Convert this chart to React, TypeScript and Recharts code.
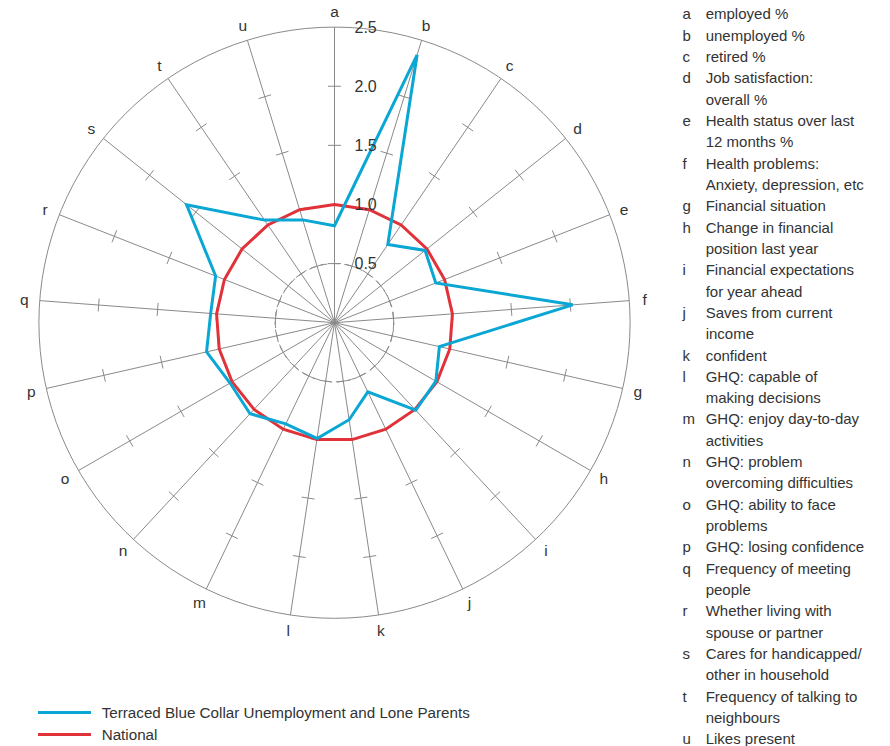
import React from 'react';
import { RadarChart, Radar, PolarAngleAxis, PolarRadiusAxis } from 'recharts';

const spokeLetters = ['a','b','c','d','e','f','g','h','i','j','k','l','m','n','o','p','q','r','s','t','u'];
const clusterValues = [0.82, 2.37, 0.80, 0.98, 0.92, 2.02, 0.91, 0.99, 1.01, 0.65, 0.83, 0.99, 0.95, 1.05, 1.02, 1.11, 1.05, 1.08, 1.60, 1.05, 0.91];
const nationalValues = [1.0, 1.0, 1.0, 1.0, 1.0, 1.0, 1.0, 1.0, 1.0, 1.0, 1.0, 1.0, 1.0, 1.0, 1.0, 1.0, 1.0, 1.0, 1.0, 1.0, 1.0];
const radiusTicks = [0.5, 1.0, 1.5, 2.0, 2.5];
const spokeTickLevels = [0.5, 1.0, 1.5, 2.0];
const dashedLevel = 0.5;
const outerLevel = 2.5;
const seriesNames = ['Terraced Blue Collar Unemployment and Lone Parents', 'National'];
const definitions: [string, string[]][] = [
  ['a', ['employed %']],
  ['b', ['unemployed %']],
  ['c', ['retired %']],
  ['d', ['Job satisfaction:', 'overall %']],
  ['e', ['Health status over last', '12 months %']],
  ['f', ['Health problems:', 'Anxiety, depression, etc']],
  ['g', ['Financial situation']],
  ['h', ['Change in financial', 'position last year']],
  ['i', ['Financial expectations', 'for year ahead']],
  ['j', ['Saves from current', 'income']],
  ['k', ['confident']],
  ['l', ['GHQ: capable of', 'making decisions']],
  ['m', ['GHQ: enjoy day-to-day', 'activities']],
  ['n', ['GHQ: problem', 'overcoming difficulties']],
  ['o', ['GHQ: ability to face', 'problems']],
  ['p', ['GHQ: losing confidence']],
  ['q', ['Frequency of meeting', 'people']],
  ['r', ['Whether living with', 'spouse or partner']],
  ['s', ['Cares for handicapped/', 'other in household']],
  ['t', ['Frequency of talking to', 'neighbours']],
  ['u', ['Likes present']],
];

const data = spokeLetters.map((k, i) => ({ key: k, cluster: clusterValues[i], national: nationalValues[i] }));

const BLUE = '#0aa6d4';
const RED = '#e1323a';
const GRID = '#8a8a8a';
const TEXT = '#333333';
const FONT = '"Liberation Sans", Arial, sans-serif';

const FrameShape = (props: any) => {
  const pts = props.points || [];
  if (!pts.length) return null;
  const p0 = pts[0];
  return (
    <g>
      {pts.map((p: any, i: number) => (
        <line key={i} x1={p.cx} y1={p.cy} x2={p.x} y2={p.y} stroke={GRID} strokeWidth={1} />
      ))}
      <circle cx={p0.cx} cy={p0.cy} r={p0.radius} fill="none" stroke={GRID} strokeWidth={1} />
    </g>
  );
};

const DashedCircleShape = (props: any) => {
  const pts = props.points || [];
  if (!pts.length) return null;
  const p0 = pts[0];
  return <circle cx={p0.cx} cy={p0.cy} r={p0.radius} fill="none" stroke={GRID} strokeWidth={1} strokeDasharray="7 5" />;
};

const TickShape = (props: any) => {
  const pts = props.points || [];
  const h = 6.5;
  return (
    <g>
      {pts.map((p: any, i: number) => {
        const dx = p.x - p.cx;
        const dy = p.y - p.cy;
        const len = Math.hypot(dx, dy) || 1;
        const ux = -dy / len;
        const uy = dx / len;
        return <line key={i} x1={p.x - ux * h} y1={p.y - uy * h} x2={p.x + ux * h} y2={p.y + uy * h} stroke={GRID} strokeWidth={1} />;
      })}
    </g>
  );
};

const AngleTick = (props: any) => {
  const { x, y, cx, cy, payload } = props;
  const dx = x - cx;
  const dy = y - cy;
  const len = Math.hypot(dx, dy) || 1;
  const r = 311;
  const tx = cx + (dx / len) * r;
  const ty = cy + (dy / len) * r;
  return (
    <text x={tx} y={ty} textAnchor="middle" dominantBaseline="central" fill={TEXT} fontSize={15.5} fontFamily={FONT}>
      {payload.value}
    </text>
  );
};

const RadiusTick = (props: any) => {
  const { x, y, payload } = props;
  return (
    <text x={x + 20} y={y} textAnchor="start" dominantBaseline="central" fill={TEXT} fontSize={16} fontFamily={FONT}>
      {Number(payload.value).toFixed(1)}
    </text>
  );
};

export default function App() {
  let line = 0;
  const lineH = 21.32;
  const top0 = 3.4;
  return (
    <div style={{ position: 'absolute', left: 0, top: 0, width: 890, height: 746, background: '#fff', fontFamily: FONT, color: TEXT }}>
      <RadarChart width={890} height={746} data={data} cx={334.5} cy={322.7} outerRadius={295.6} margin={{ top: 0, right: 0, bottom: 0, left: 0 }}>
        <PolarAngleAxis dataKey="key" tick={<AngleTick />} axisLine={false} tickLine={false} />
        <PolarRadiusAxis angle={90} domain={[0, 2.5]} allowDecimals tickCount={6} ticks={radiusTicks} tick={<RadiusTick />} axisLine={false} tickLine={false} type="number" allowDataOverflow />
        <Radar dataKey={() => outerLevel} isAnimationActive={false} shape={<FrameShape />} />
        <Radar dataKey={() => dashedLevel} isAnimationActive={false} shape={<DashedCircleShape />} />
        {spokeTickLevels.map((lvl) => (
          <Radar key={'t' + lvl} dataKey={() => lvl} isAnimationActive={false} shape={<TickShape />} />
        ))}
        <Radar dataKey="national" name={seriesNames[1]} stroke={RED} strokeWidth={3} fill="none" fillOpacity={0} dot={false} isAnimationActive={false} />
        <Radar dataKey="cluster" name={seriesNames[0]} stroke={BLUE} strokeWidth={3} fill="none" fillOpacity={0} dot={false} isAnimationActive={false} />
      </RadarChart>

      <div style={{ position: 'absolute', left: 0, top: 0, width: 890, height: 746, pointerEvents: 'none' }}>
        {definitions.map(([k, lines]) =>
          lines.map((t, j) => {
            const topY = top0 + line * lineH;
            line += 1;
            return (
              <div key={k + j} style={{ position: 'absolute', top: topY, left: 0, height: lineH, lineHeight: lineH + 'px', fontSize: 15, whiteSpace: 'nowrap' }}>
                {j === 0 ? <span style={{ position: 'absolute', left: 682.5 }}>{k}</span> : null}
                <span style={{ position: 'absolute', left: 705.7 }}>{t}</span>
              </div>
            );
          })
        )}
        {seriesNames.map((n, i) => {
          const cy = 712.7 + i * 21.3;
          return (
            <div key={n}>
              <div style={{ position: 'absolute', left: 37.7, top: cy - 1.5, width: 53.5, height: 3, background: i === 0 ? BLUE : RED }} />
              <div style={{ position: 'absolute', left: 101.7, top: cy - 10.5, lineHeight: '21px', fontSize: 15.2, whiteSpace: 'nowrap' }}>{n}</div>
            </div>
          );
        })}
      </div>
    </div>
  );
}
